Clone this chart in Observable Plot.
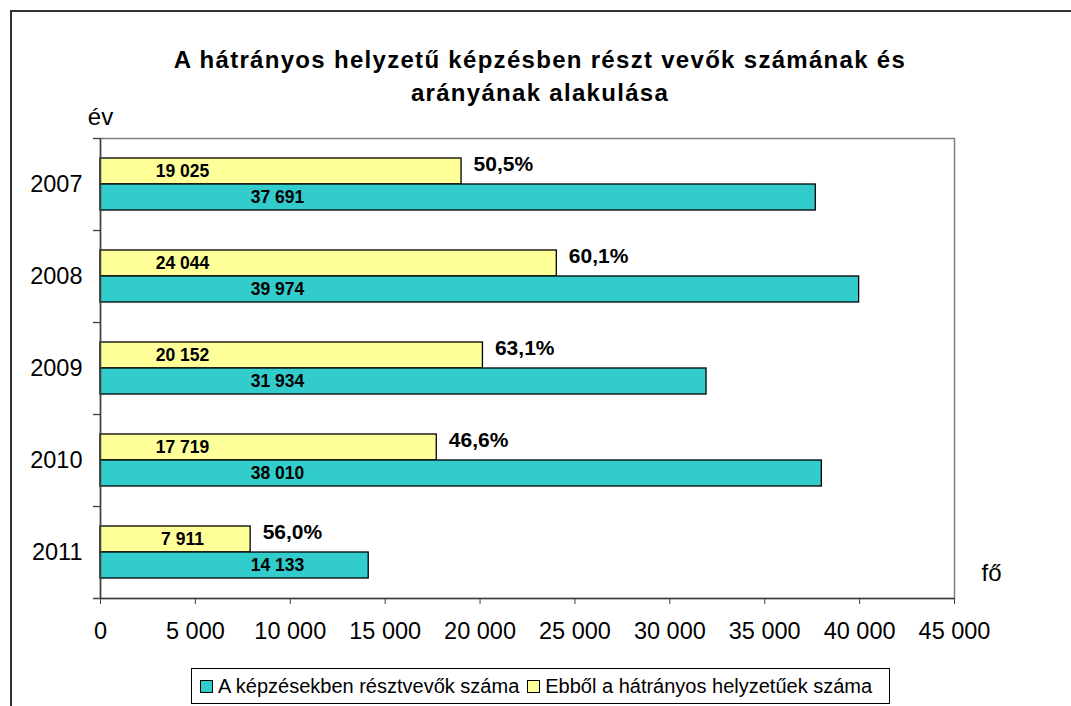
<!DOCTYPE html>
<html>
<head>
<meta charset="utf-8">
<script src="https://cdn.jsdelivr.net/npm/d3@7"></script>
<script src="https://cdn.jsdelivr.net/npm/@observablehq/plot@0.6"></script>
<style>
  html, body { margin: 0; padding: 0; background: #fff; overflow: hidden; }
  body { width: 1071px; height: 706px; position: relative; font-family: Arial, "Liberation Sans", sans-serif; color: #000; }
  #frame { position: absolute; left: 10px; top: 10px; width: 1200px; height: 900px; border-left: 2px solid #333; border-top: 2px solid #333; box-sizing: border-box; }
  #title { position: absolute; left: 0; width: 1080px; top: 43px; text-align: center; font-weight: bold; font-size: 24px; letter-spacing: 1.3px; line-height: 33px; }
  #chart { position: absolute; left: 0; top: 95px; }
  #legend { position: absolute; left: 191px; top: 668px; width: 699px; height: 36px; border: 1px solid #000; box-sizing: border-box; display: flex; align-items: center; justify-content: flex-start; padding-left: 8px; font-size: 20px; white-space: nowrap; }
  .sw { display: inline-block; width: 11px; height: 11px; border: 1px solid #000; margin: 0 5px 0 0; }
  .item { display: inline-flex; align-items: center; margin-right: 8px; }
</style>
</head>
<body>
<div id="frame"></div>
<div id="title"></div>
<div id="chart"></div>
<div id="legend"></div>
<script>
const titleLines = ["A hátrányos helyzetű képzésben részt vevők számának és", "arányának alakulása"];
const years = ["2007", "2008", "2009", "2010", "2011"];
const totalParticipants = [37691, 39974, 31934, 38010, 14133];
const disadvantaged = [19025, 24044, 20152, 17719, 7911];
const sharePercent = [50.5, 60.1, 63.1, 46.6, 56.0];
const xTicks = [0, 5000, 10000, 15000, 20000, 25000, 30000, 35000, 40000, 45000];
const seriesNames = ["A képzésekben résztvevők száma", "Ebből a hátrányos helyzetűek száma"];
const seriesColors = ["#33CCCC", "#FFFF99"];
const yAxisTitle = "év";
const xAxisTitle = "fő";

const locale = d3.formatLocale({decimal: ",", thousands: " ", grouping: [3], currency: ["", ""]});
const fmtNum = locale.format(",d");
const fmtPct = v => locale.format(".1f")(v) + "%";

const rows = years.map((y, i) => ({year: y, total: totalParticipants[i], dis: disadvantaged[i], share: sharePercent[i]}));

document.getElementById("title").innerHTML = titleLines.join("<br>");

const font = "Arial, 'Liberation Sans', sans-serif";
const W = 1071, H = 565, mL = 100, mR = 117, mT = 43, mB = 62;
const step = (H - mT - mB) / years.length;

const chart = Plot.plot({
  width: W, height: H,
  marginLeft: mL, marginRight: mR, marginTop: mT, marginBottom: mB,
  style: {fontFamily: font, fontSize: "23.5px", color: "#000", background: "transparent", overflow: "visible"},
  x: {domain: [0, 45000]},
  y: {domain: years, paddingInner: 0.4348, paddingOuter: 0.2174},
  marks: [
    Plot.frame({stroke: "#808080", strokeWidth: 1.5}),
    Plot.rectX(rows, {x: "dis", y: "year", fill: seriesColors[1], stroke: "#000", strokeWidth: 1.3, insetBottom: step * 0.2826}),
    Plot.rectX(rows, {x: "total", y: "year", fill: seriesColors[0], stroke: "#000", strokeWidth: 1.3, insetTop: step * 0.2826}),
    Plot.ruleX([0], {stroke: "#404040", strokeWidth: 1.5}),
    Plot.ruleY(years, {y: d => d, dy: -step / 2, x1: 0, x2: 0, insetLeft: -7, stroke: "#404040", strokeWidth: 1.3}),
    Plot.ruleY([years[years.length - 1]], {y: d => d, dy: step / 2, x1: 0, x2: 45000, insetLeft: -7, stroke: "#404040", strokeWidth: 1.5}),
    Plot.axisX({ticks: xTicks, tickSize: 6, tickPadding: 18, tickFormat: fmtNum, stroke: "#404040", label: null, fontSize: 23.5}),
    Plot.axisY({tickSize: 0, tickPadding: 18, label: null, fontSize: 23.5}),
    Plot.text(rows, {x: () => 0, y: "year", text: d => fmtNum(d.dis), dx: 82, dy: -13, fontWeight: "bold", fontSize: 17.5, textAnchor: "middle"}),
    Plot.text(rows, {x: () => 0, y: "year", text: d => fmtNum(d.total), dx: 177, dy: 13, fontWeight: "bold", fontSize: 17.5, textAnchor: "middle"}),
    Plot.text(rows, {x: "dis", y: "year", text: d => fmtPct(d.share), dx: 12, dy: -20, fontWeight: "bold", fontSize: 21, textAnchor: "start"}),
    Plot.text([yAxisTitle], {frameAnchor: "top-left", text: d => d, dy: -31, fontSize: 24, textAnchor: "middle"}),
    Plot.text([xAxisTitle], {frameAnchor: "bottom-right", text: d => d, dx: 37, dy: -18, fontSize: 24, textAnchor: "middle"})
  ]
});
document.getElementById("chart").appendChild(chart);

const legend = document.getElementById("legend");
seriesNames.forEach((name, i) => {
  const item = document.createElement("span");
  item.className = "item";
  const sw = document.createElement("span");
  sw.className = "sw";
  sw.style.background = seriesColors[i];
  item.appendChild(sw);
  item.appendChild(document.createTextNode(name));
  legend.appendChild(item);
});
</script>
</body>
</html>
